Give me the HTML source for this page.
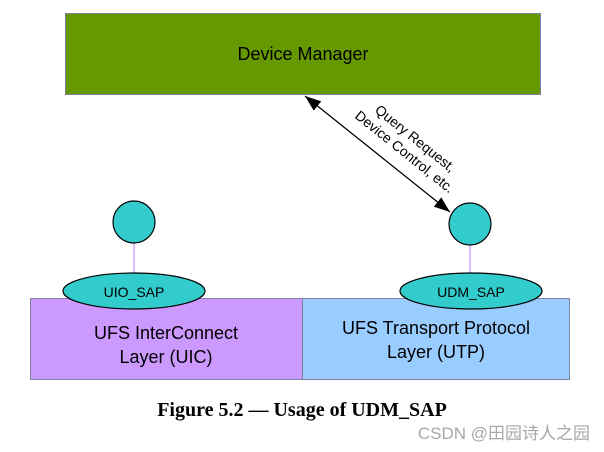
<!DOCTYPE html>
<html><head><style>
body{margin:0;width:604px;height:452px;background:#fff;overflow:hidden;position:relative;font-family:"Liberation Sans",sans-serif}
</style></head><body>
<svg width="604" height="452" style="position:absolute;left:0;top:0" font-family="Liberation Sans, sans-serif">
<defs><marker id="a" viewBox="0 0 16 12" refX="16" refY="6" markerWidth="16" markerHeight="12" orient="auto-start-reverse" markerUnits="userSpaceOnUse"><path d="M0,0 L16,6 L0,12 z" fill="#000"/></marker></defs>
<rect x="65.5" y="13.5" width="475" height="81" fill="#669900" stroke="#8080a0"/>
<text x="303" y="60" text-anchor="middle" font-size="18">Device Manager</text>
<line x1="305" y1="96" x2="450" y2="212" stroke="#000" stroke-width="1.3" marker-start="url(#a)" marker-end="url(#a)"/>
<g transform="translate(406,150) rotate(38.7)" font-size="14" text-anchor="middle">
<text x="0" y="-10">Query Request,</text>
<text x="0" y="7">Device Control, etc.</text>
</g>
<rect x="30.5" y="298.5" width="272" height="81" fill="#cc99ff" stroke="#8080a0"/>
<rect x="302.5" y="298.5" width="267" height="81" fill="#99ccff" stroke="#8080a0"/>
<text x="166" y="339" text-anchor="middle" font-size="18">UFS InterConnect</text>
<text x="166" y="363" text-anchor="middle" font-size="18">Layer (UIC)</text>
<text x="436" y="334" text-anchor="middle" font-size="18">UFS Transport  Protocol</text>
<text x="436" y="358" text-anchor="middle" font-size="18">Layer (UTP)</text>
<line x1="134" y1="243" x2="134" y2="273" stroke="#cc99ff" stroke-width="1.3"/>
<line x1="470" y1="245" x2="470" y2="273" stroke="#cc99ff" stroke-width="1.3"/>
<circle cx="134" cy="222" r="21" fill="#33cccc" stroke="#000" stroke-width="1.2"/>
<circle cx="470" cy="224" r="21" fill="#33cccc" stroke="#000" stroke-width="1.2"/>
<ellipse cx="134" cy="291" rx="71" ry="18" fill="#33cccc" stroke="#000" stroke-width="1.2"/>
<ellipse cx="471" cy="291" rx="71" ry="18" fill="#33cccc" stroke="#000" stroke-width="1.2"/>
<text x="134" y="297" text-anchor="middle" font-size="14">UIO_SAP</text>
<text x="471" y="297" text-anchor="middle" font-size="14">UDM_SAP</text>
<text x="302" y="416" text-anchor="middle" font-size="20" font-weight="bold" font-family="Liberation Serif, serif">Figure 5.2 — Usage of UDM_SAP</text>
<text x="590" y="439" text-anchor="end" font-size="17" fill="#a8a8a8" font-family="Liberation Sans, Noto Sans CJK SC, sans-serif">CSDN @田园诗人之园</text>
</svg>
</body></html>
